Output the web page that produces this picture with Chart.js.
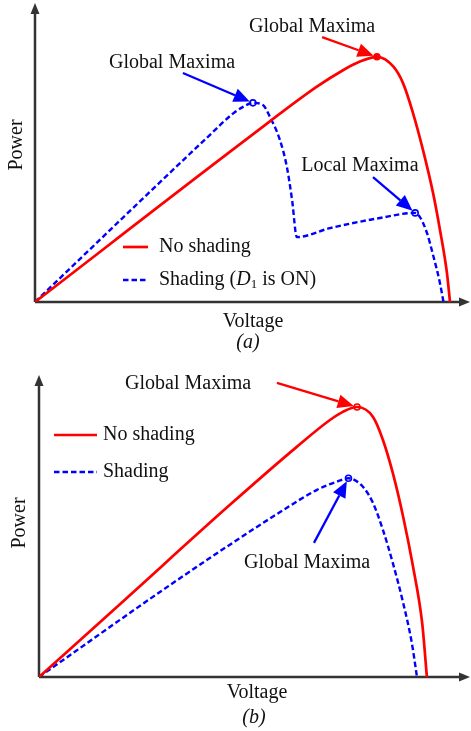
<!DOCTYPE html>
<html>
<head>
<meta charset="utf-8">
<script src="https://cdn.jsdelivr.net/npm/chart.js"></script>
<style>
  html, body { margin: 0; padding: 0; background: #fff; }
  .wrap { position: absolute; left: 0; width: 471px; }
  #wrapA { top: 0; height: 360px; }
  #wrapB { top: 360px; height: 371px; }
</style>
</head>
<body>
<div class="wrap" id="wrapA"><canvas id="chartA"></canvas></div>
<div class="wrap" id="wrapB"><canvas id="chartB"></canvas></div>
<script>
// values, voltage and power in % of axis length

// (a) partial shading with bypass diode D1 on
const voltNoShadeA  = [0, 49.4, 64.8, 70.9, 74.7, 78.6, 82.4, 84.6, 86.9, 89.2, 91.5, 93.1, 94.7, 95.4];
const powerNoShadeA = [0, 55.3, 72.0, 77.6, 80.4, 82.0, 78.7, 73.2, 63.2, 50.8, 36.5, 24.1, 9.7, 0];
const voltShadeA  = [0, 40, 45.5, 48, 50.1, 52.4, 54.0, 56.3, 57.9, 59.1, 60.2, 67.8, 79.3, 87.4, 88.5, 90.1, 91.6, 93.1, 93.9];
const powerShadeA = [0, 55.6, 63.0, 65.4, 66.6, 65.9, 61.9, 54.2, 45.2, 34.1, 21.7, 24.7, 28.1, 29.8, 28.4, 23.1, 15.2, 6.3, 0];
const peakVoltA  = [78.6, 50.1, 87.4];
const peakPowerA = [82.0, 66.6, 29.8];

// (b) uniform shading
const voltNoShadeB  = [0, 20, 44.3, 59.8, 67.5, 70.5, 73.8, 77.5, 79.8, 82.1, 84.5, 86.8, 88.9, 90.0];
const powerNoShadeB = [0, 25.7, 57.0, 76.2, 85.1, 87.8, 89.4, 86.1, 78.5, 67.5, 53.0, 36.4, 17.9, 0];
const voltShadeB  = [0, 32.7, 56.7, 64.4, 69.1, 71.8, 75.2, 77.5, 79.8, 82.1, 84.5, 86.5, 87.7];
const powerShadeB = [0, 32.7, 55.3, 61.9, 64.7, 65.8, 62.9, 57.6, 48.7, 37.7, 24.5, 11.3, 0];
const peakVoltB  = [73.8, 71.8];
const peakPowerB = [89.4, 65.8];

const RED = '#ff0000';
const BLUE = '#0000ff';
const AXIS = '#333333';
const TEXT = '#111111';
const FONT = '"Liberation Serif", "DejaVu Serif", serif';
const DASH = [5.5, 3];

function toXY(xs, ys) {
    return xs.map((x, i) => ({ x: x, y: ys[i] }));
}

function curve(label, xs, ys, color, dashed) {
    return {
        label: label,
        data: toXY(xs, ys),
        showLine: true,
        borderColor: color,
        borderWidth: dashed ? 2.4 : 2.7,
        borderDash: dashed ? DASH : [],
        pointRadius: 0,
        cubicInterpolationMode: 'monotone',
        fill: false
    };
}

function peaks(xs, ys, colors, fills) {
    return {
        label: 'peaks',
        data: toXY(xs, ys),
        showLine: false,
        pointRadius: 3,
        pointBorderWidth: 1.6,
        pointBorderColor: colors,
        pointBackgroundColor: fills
    };
}

function drawArrow(ctx, x1, y1, x2, y2, color, lw, hl, hw) {
    const ang = Math.atan2(y2 - y1, x2 - x1);
    const bx = x2 - hl * Math.cos(ang), by = y2 - hl * Math.sin(ang);
    ctx.strokeStyle = color;
    ctx.fillStyle = color;
    ctx.lineWidth = lw;
    ctx.setLineDash([]);
    ctx.beginPath();
    ctx.moveTo(x1, y1);
    ctx.lineTo(bx, by);
    ctx.stroke();
    ctx.beginPath();
    ctx.moveTo(x2, y2);
    ctx.lineTo(bx + hw * Math.sin(ang), by - hw * Math.cos(ang));
    ctx.lineTo(bx - hw * Math.sin(ang), by + hw * Math.cos(ang));
    ctx.closePath();
    ctx.fill();
}

// draws the axes, titles, inline legend and the maxima annotations
function makeSketch(cfg) {
    return {
        id: 'sketch',
        beforeDatasetsDraw(chart) {
            const ctx = chart.ctx, a = chart.chartArea;
            ctx.save();
            drawArrow(ctx, a.left, a.bottom, a.left, a.top, AXIS, 2.5, 11, 4.5);
            drawArrow(ctx, a.left, a.bottom, a.right, a.bottom, AXIS, 2.5, 11, 4.5);
            ctx.restore();
        },
        afterDatasetsDraw(chart) {
            const ctx = chart.ctx;
            const xs = chart.scales.x, ys = chart.scales.y;
            ctx.save();
            ctx.fillStyle = TEXT;
            ctx.textBaseline = 'middle';
            ctx.textAlign = 'center';
            ctx.font = '20px ' + FONT;

            // axis titles
            ctx.fillText('Voltage', cfg.xTitle[0], cfg.xTitle[1]);
            ctx.save();
            ctx.translate(cfg.yTitle[0], cfg.yTitle[1]);
            ctx.rotate(-Math.PI / 2);
            ctx.fillText('Power', 0, 0);
            ctx.restore();
            ctx.font = 'italic 20px ' + FONT;
            ctx.fillText(cfg.caption, cfg.capPos[0], cfg.capPos[1]);

            // annotation labels
            ctx.font = '20px ' + FONT;
            cfg.labels.forEach(l => {
                ctx.fillStyle = TEXT;
                ctx.fillText(l.text, xs.getPixelForValue(l.x), ys.getPixelForValue(l.y));
            });

            // annotation arrows pointing at the peaks
            cfg.arrows.forEach(ar => {
                const tx = xs.getPixelForValue(cfg.peakX[ar.to]);
                const ty = ys.getPixelForValue(cfg.peakY[ar.to]);
                const fx = xs.getPixelForValue(ar.from[0]);
                const fy = ys.getPixelForValue(ar.from[1]);
                const d = Math.hypot(tx - fx, ty - fy);
                const ex = tx - (tx - fx) / d * 3.5, ey = ty - (ty - fy) / d * 3.5;
                drawArrow(ctx, fx, fy, ex, ey, ar.color, 2.3, 16, 7);
            });

            // legend
            ctx.textAlign = 'left';
            cfg.legend.forEach((item, i) => {
                const y = cfg.legendY[i];
                ctx.strokeStyle = item.color;
                ctx.lineWidth = item.dashed ? 2.4 : 2.7;
                ctx.setLineDash(item.dashed ? DASH : []);
                ctx.beginPath();
                ctx.moveTo(cfg.legendLine[0], y);
                ctx.lineTo(cfg.legendLine[1], y);
                ctx.stroke();
                ctx.setLineDash([]);
                let x = cfg.legendText;
                ctx.fillStyle = TEXT;
                item.parts.forEach(p => {
                    ctx.font = (p.italic ? 'italic ' : '') + (p.sub ? '13px ' : '20px ') + FONT;
                    ctx.fillText(p.t, x, p.sub ? y + 5 : y);
                    x += ctx.measureText(p.t).width;
                });
            });
            ctx.restore();
        }
    };
}

function makeChart(id, datasets, padding, cfg) {
    return new Chart(document.getElementById(id), {
        type: 'scatter',
        data: { datasets: datasets },
        options: {
            responsive: true,
            maintainAspectRatio: false,
            animation: false,
            layout: { padding: padding, autoPadding: false },
            plugins: { legend: { display: false }, tooltip: { enabled: false } },
            scales: {
                x: { type: 'linear', min: 0, max: 100, display: false },
                y: { type: 'linear', min: 0, max: 100, display: false }
            }
        },
        plugins: [makeSketch(cfg)]
    });
}

makeChart('chartA', [
    curve('No shading', voltNoShadeA, powerNoShadeA, RED, false),
    curve('Shading (D1 is ON)', voltShadeA, powerShadeA, BLUE, true),
    peaks(peakVoltA, peakPowerA, [RED, BLUE, BLUE], [RED, '#fff', '#fff'])
], { left: 35, top: 3, right: 1, bottom: 58 }, {
    peakX: peakVoltA, peakY: peakPowerA,
    xTitle: [253, 322], yTitle: [17, 145],
    caption: '(a)', capPos: [248, 343],
    labels: [
        { text: 'Global Maxima', x: 63.7, y: 92.0 },
        { text: 'Global Maxima', x: 31.5, y: 79.9 },
        { text: 'Local Maxima', x: 74.7, y: 45.5 }
    ],
    arrows: [
        { from: [66.0, 88.6], to: 0, color: RED },
        { from: [34.0, 76.6], to: 1, color: BLUE },
        { from: [77.7, 41.8], to: 2, color: BLUE }
    ],
    legendLine: [123, 148], legendText: 159, legendY: [247, 280],
    legend: [
        { color: RED, dashed: false, parts: [{ t: 'No shading' }] },
        { color: BLUE, dashed: true, parts: [
            { t: 'Shading (' }, { t: 'D', italic: true }, { t: '1', sub: true }, { t: ' is ON)' }
        ] }
    ]
});

makeChart('chartB', [
    curve('No shading', voltNoShadeB, powerNoShadeB, RED, false),
    curve('Shading', voltShadeB, powerShadeB, BLUE, true),
    peaks(peakVoltB, peakPowerB, [RED, BLUE], ['#fff', '#fff'])
], { left: 39, top: 15, right: 1, bottom: 54 }, {
    peakX: peakVoltB, peakY: peakPowerB,
    xTitle: [257, 333], yTitle: [20, 163],
    caption: '(b)', capPos: [254, 358],
    labels: [
        { text: 'Global Maxima', x: 34.6, y: 97.0 },
        { text: 'Global Maxima', x: 62.2, y: 37.7 }
    ],
    arrows: [
        { from: [55.2, 97.4], to: 0, color: RED },
        { from: [63.8, 44.4], to: 1, color: BLUE }
    ],
    legendLine: [54, 97], legendText: 103, legendY: [75, 112],
    legend: [
        { color: RED, dashed: false, parts: [{ t: 'No shading' }] },
        { color: BLUE, dashed: true, parts: [{ t: 'Shading' }] }
    ]
});
</script>
</body>
</html>
